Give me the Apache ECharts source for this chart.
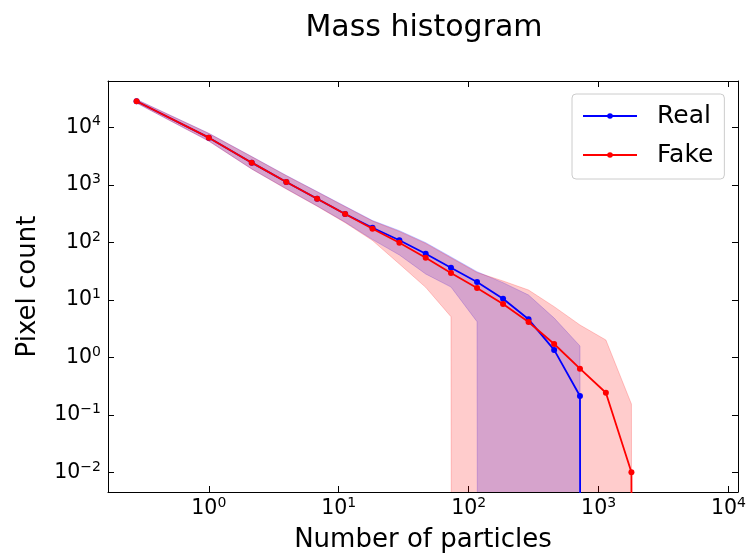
<!DOCTYPE html>
<html>
<head>
<meta charset="utf-8">
<script src="https://cdn.jsdelivr.net/npm/echarts@6/dist/echarts.min.js"></script>
<style>
  html, body { margin: 0; padding: 0; background: #fff; }
  #chart { width: 749px; height: 558px; }
</style>
</head>
<body>
<div id="chart"></div>
<script>
// ---- data ----
const particleBins = [0.278, 1.0, 2.14, 3.95, 6.82, 11.2, 18.2, 29.3, 46.7, 73.1, 116, 184, 289, 455, 719, 1138, 1790, 2840, 4500, 7130];
const realMean  = [28300, 6600, 2430, 1120, 575, 312, 180, 109, 63.7, 36.4, 20.6, 10.5, 4.62, 1.36, 0.215, 0, 0, 0, 0, 0];
const fakeMean  = [28300, 6600, 2430, 1120, 575, 312, 173, 99, 54.3, 29.4, 16.2, 8.5, 4.15, 1.72, 0.641, 0.245, 0.0102, 0, 0, 0];
const realUpper = [30400, 7870, 3110, 1460, 765, 425, 240, 160, 99, 56, 31, 20.0, 12.2, 4.86, 1.59, 0, 0, 0, 0, 0];
const realLower = [26400, 5780, 1890, 855, 430, 225, 112, 60.5, 28.3, 16.8, 4.20, 0, 0, 0, 0, 0, 0, 0, 0, 0];
const fakeUpper = [30200, 7800, 3080, 1440, 755, 418, 235, 155, 96, 54, 30, 21.4, 14.9, 7.66, 3.68, 2.02, 0.156, 0, 0, 0];
const fakeLower = [26400, 5750, 1880, 845, 425, 220, 108, 42.2, 16.6, 5.13, 0, 0, 0, 0, 0, 0, 0, 0, 0, 0];
const seriesNames = ['Real', 'Fake'];
const titleText = 'Mass histogram';
const xName = 'Number of particles';
const yName = 'Pixel count';
const xRange = [0.1675, 11830];
const yRange = [0.004624, 63680];

// zero counts cannot sit on a log axis; like a clipped log plot, push them far below the frame
const ZERO_ON_LOG = 1e-300;
const onLog = v => (v > 0 ? v : ZERO_ON_LOG);

const FONT = 'DejaVu Sans';

function powLabel(v) {
  const e = Math.log10(v);
  const r = Math.round(e);
  if (Math.abs(e - r) > 1e-6) return '';
  const exp = r < 0 ? '\u2212' + (-r) : String(r);
  return '{b|10}{s|' + exp + '}';
}
const tickRich = {
  b: { fontFamily: FONT, fontSize: 20.5, color: '#000', lineHeight: 25 },
  s: { fontFamily: FONT, fontSize: 14, color: '#000', lineHeight: 13.5, verticalAlign: 'top' }
};

function bandSeries(name, upper, lower, rgb) {
  return {
    type: 'custom',
    name: name,
    silent: true,
    clip: true,
    z: 1,
    data: [[particleBins[0], upper[0]]],
    renderItem: function (params, api) {
      if (params.dataIndex !== 0) return;
      const pts = [];
      for (let i = 0; i < particleBins.length; i++) pts.push(api.coord([particleBins[i], onLog(upper[i])]));
      for (let i = particleBins.length - 1; i >= 0; i--) pts.push(api.coord([particleBins[i], onLog(lower[i])]));
      return {
        type: 'polygon',
        shape: { points: pts },
        style: { fill: 'rgba(' + rgb + ',0.2)', stroke: 'rgba(' + rgb + ',0.2)', lineWidth: 1 }
      };
    }
  };
}

function lineSeries(name, values, color, z) {
  return {
    type: 'line',
    name: name,
    z: z,
    clip: true,
    symbol: 'circle',
    symbolSize: 6,
    showSymbol: true,
    animation: false,
    lineStyle: { color: color, width: 1.8 },
    itemStyle: { color: color },
    data: particleBins.map((x, i) => [x, onLog(values[i])])
  };
}

const axisCommon = {
  type: 'log',
  logBase: 10,
  splitLine: { show: false },
  minorTick: { show: false },
  axisLine: { show: true, onZero: false, lineStyle: { color: '#000', width: 1 } },
  axisTick: { show: true, inside: true, length: 6, lineStyle: { color: '#000', width: 1 } }
};

const chart = echarts.init(document.getElementById('chart'), null, { renderer: 'canvas' });
chart.setOption({
  animation: false,
  backgroundColor: '#fff',
  title: {
    text: titleText,
    left: 419,
    textAlign: 'center',
    top: 8,
    textStyle: { fontFamily: FONT, fontSize: 30, fontWeight: 'normal', color: '#000' }
  },
  grid: { left: 108, right: 9, top: 81, bottom: 66, containLabel: false },
  legend: {
    data: seriesNames,
    left: 572,
    top: 94,
    orient: 'vertical',
    itemWidth: 54,
    itemHeight: 7,
    itemGap: 11,
    padding: [8, 11, 10, 10],
    borderColor: '#cccccc',
    borderWidth: 1,
    borderRadius: 4,
    backgroundColor: 'rgba(255,255,255,0.8)',
    textStyle: { fontFamily: FONT, fontSize: 25, color: '#000', lineHeight: 28, padding: [0, 0, 0, 15] }
  },
  xAxis: [
    Object.assign({}, axisCommon, {
      position: 'bottom', min: xRange[0], max: xRange[1],
      name: xName, nameLocation: 'middle', nameGap: 35,
      nameTextStyle: { fontFamily: FONT, fontSize: 26, color: '#000' },
      axisLabel: { formatter: powLabel, rich: tickRich, margin: 4, showMinLabel: false, showMaxLabel: true }
    }),
    Object.assign({}, axisCommon, {
      position: 'top', min: xRange[0], max: xRange[1],
      axisLabel: { show: false }
    })
  ],
  yAxis: [
    Object.assign({}, axisCommon, {
      position: 'left', min: yRange[0], max: yRange[1],
      name: yName, nameLocation: 'middle', nameGap: 67,
      nameTextStyle: { fontFamily: FONT, fontSize: 26, color: '#000' },
      axisLabel: { formatter: powLabel, rich: tickRich, margin: 7 }
    }),
    Object.assign({}, axisCommon, {
      position: 'right', min: yRange[0], max: yRange[1],
      axisLabel: { show: false }
    })
  ],
  series: [
    bandSeries('Real band', realUpper, realLower, '0,0,255'),
    bandSeries('Fake band', fakeUpper, fakeLower, '255,0,0'),
    lineSeries('Real', realMean, '#0000ff', 3),
    lineSeries('Fake', fakeMean, '#ff0000', 4)
  ]
});
</script>
</body>
</html>
